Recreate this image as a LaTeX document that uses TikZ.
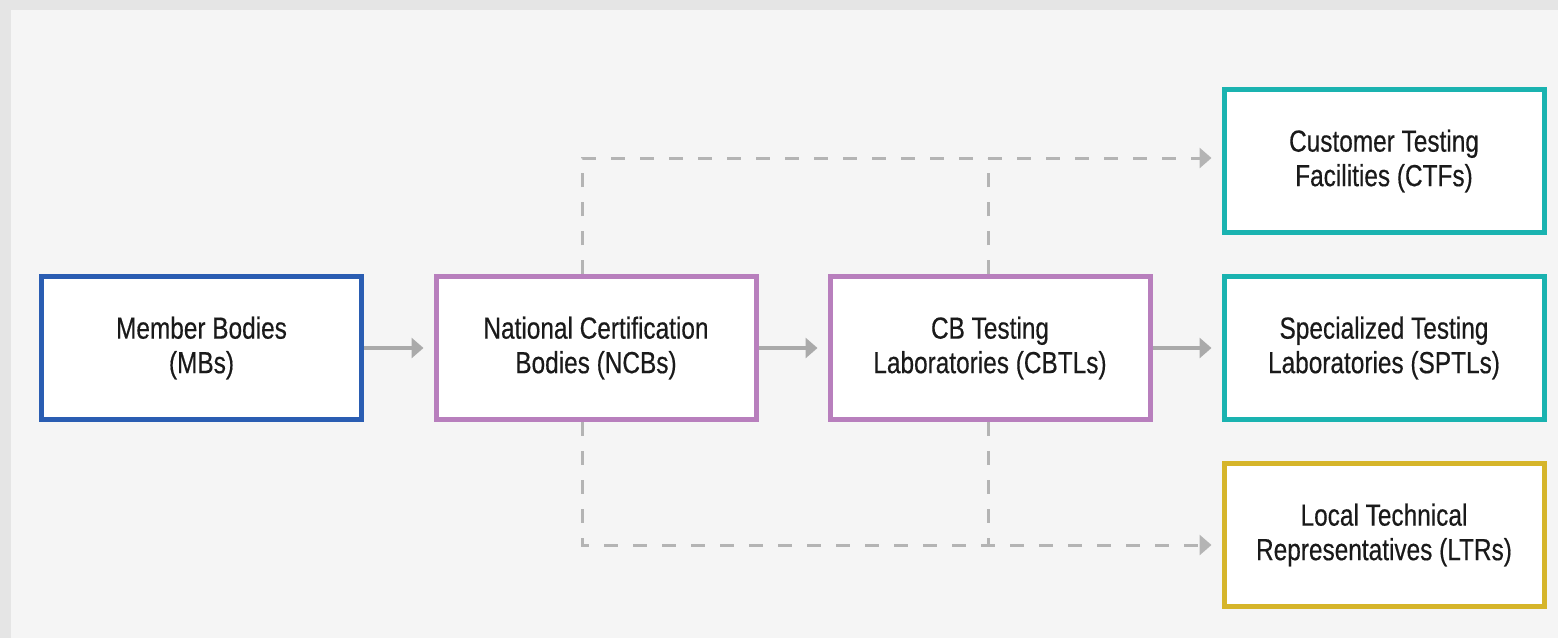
\documentclass[tikz,border=0pt]{standalone}
\usepackage{fontspec}
\setmainfont{Liberation Sans}[FakeStretch=0.80,FakeBold=0.4]
\usetikzlibrary{arrows.meta}
\definecolor{bgouter}{HTML}{E5E5E5}
\definecolor{bginner}{HTML}{F5F5F5}
\definecolor{cblue}{HTML}{2A5DB2}
\definecolor{cpurple}{HTML}{B87FBD}
\definecolor{cteal}{HTML}{1AB3B0}
\definecolor{cgold}{HTML}{D6B52A}
\definecolor{carrow}{HTML}{AAAAAA}
\definecolor{cdash}{HTML}{B4B4B4}
\definecolor{ctext}{HTML}{1A1A1A}
\begin{document}
\begin{tikzpicture}[x=1pt,y=-1pt,
  box/.style={draw, line width=5pt, fill=white, minimum width=320pt, minimum height=143pt,
    align=center, text=ctext, font=\fontsize{30.5}{34.5}\selectfont, inner sep=0pt},
  flow/.style={draw=carrow, line width=4pt, -{Triangle[length=12pt,width=20pt]}, shorten >=10pt},
  dashline/.style={draw=cdash, line width=3pt, dash pattern=on 14pt off 15pt},
  dasharrow/.style={dashline, -{Triangle[length=12pt,width=20pt]}, shorten >=10pt}
]
\useasboundingbox (0,0) rectangle (1558,638);
\fill[bgouter] (0,0) rectangle (1558,638);
\fill[bginner] (11,10) rectangle (1558,638);

\node[box, draw=cblue]   (mb)   at (201.5,348) {Member Bodies\\(MBs)};
\node[box, draw=cpurple] (ncb)  at (596,348) {National Certification\\Bodies (NCBs)};
\node[box, draw=cpurple] (cbtl) at (990,348) {CB Testing\\Laboratories (CBTLs)};
\node[box, draw=cteal]   (ctf)  at (1384,161) {Customer Testing\\Facilities (CTFs)};
\node[box, draw=cteal]   (sptl) at (1384,348) {Specialized Testing\\Laboratories (SPTLs)};
\node[box, draw=cgold]   (ltr)  at (1384,535) {Local Technical\\Representatives (LTRs)};

\draw[flow] (mb.east) -- (ncb.west);
\draw[flow] (ncb.east) -- (cbtl.west);
\draw[flow] (cbtl.east) -- (sptl.west);

\coordinate (toprow) at ([yshift=3pt]ctf.west);
\coordinate (botrow) at ([yshift=-10pt]ltr.west);

\draw[dasharrow] ([xshift=-14pt]ncb.north) |- (toprow);
\draw[dashline] ([xshift=-2pt]cbtl.north) -- ([xshift=-2pt]cbtl.north |- toprow);
\draw[dasharrow] ([xshift=-14pt]ncb.south) |- (botrow);
\draw[dashline] ([xshift=-2pt]cbtl.south) -- ([xshift=-2pt]cbtl.south |- botrow);
\end{tikzpicture}
\end{document}
